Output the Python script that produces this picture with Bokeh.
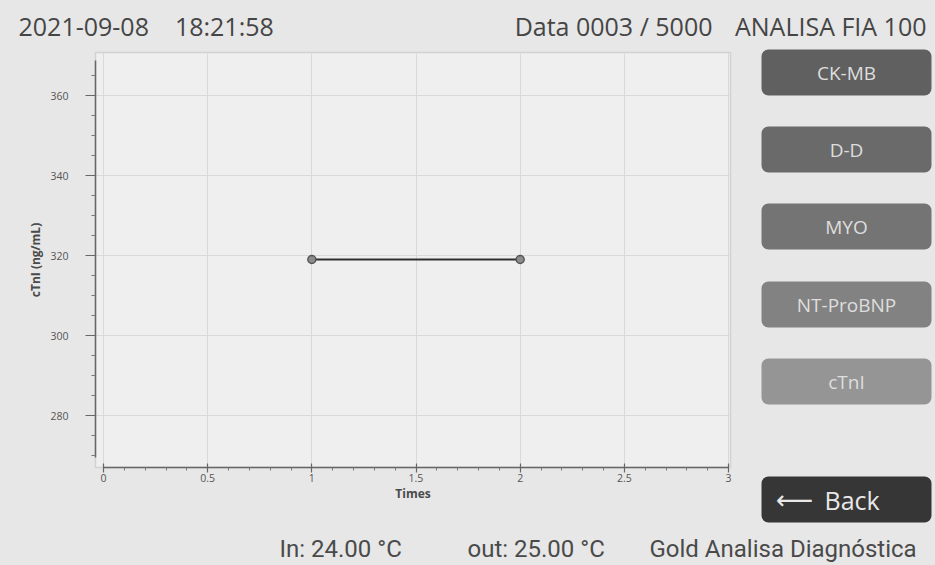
from bokeh.plotting import figure
from bokeh.layouts import column, row
from bokeh.models import Range1d, FixedTicker, BoxAnnotation, Label
from bokeh.embed import file_html
from bokeh.resources import INLINE

# ---- data ----
times = [1, 2]
ctni = [319, 319]

x_major = [0, 0.5, 1, 1.5, 2, 2.5, 3]
x_minor = [0.1, 0.2, 0.3, 0.4, 0.6, 0.7, 0.8, 0.9, 1.1, 1.2, 1.3, 1.4,
           1.6, 1.7, 1.8, 1.9, 2.1, 2.2, 2.3, 2.4, 2.6, 2.7, 2.8, 2.9]
y_major = [280, 300, 320, 340, 360]
y_minor = [270, 275, 285, 290, 295, 305, 310, 315, 325, 330, 335, 345, 350, 355, 365]

buttons = ["CK-MB", "D-D", "MYO", "NT-ProBNP", "cTnI"]
button_colors = ["#606060", "#6a6a6a", "#747474", "#828282", "#959595"]
back_arrow = "\u27f5"
back_label = "Back"
back_color = "#363636"

header_left = "2021-09-08\u00a0\u00a0\u00a0\u00a018:21:58"
header_mid = "Data 0003 / 5000"
header_right = "ANALISA FIA 100"
footer_texts = ["In: 24.00 \u00b0C", "out: 25.00 \u00b0C", "Gold Analisa Diagn\u00f3stica"]

x_title = "Times"
y_title = "cTnI (ng/mL)"

# ---- geometry (page pixels) ----
PW, PH = 935, 565
HEAD_H = 44
FOOT_H = 35
MID_H = PH - HEAD_H - FOOT_H
CHART_W = 745
SIDE_W = PW - CHART_W

BG = "#e7e7e7"

FL, FR, FT, FB = 95, 730, 52, 467          # chart frame edges (page px)
X0PX, X3PX = 103, 728                      # x=0 and x=3 positions
UX = (X3PX - X0PX) / 3.0
Y360PX, UY = 95, 4.0                       # y=360 position, px per unit

xs = -(X0PX - FL) / UX
xe = 3 + (FR - X3PX) / UX
ys = 360 - (FB - Y360PX) / UY
ye = 360 + (Y360PX - FT) / UY


def plain(w, h, x0, x1, y_top, y_bottom):
    f = figure(width=w, height=h, output_backend="svg", toolbar_location=None,
               x_range=Range1d(x0, x1), y_range=Range1d(y_bottom, y_top),
               min_border=0, x_axis_type=None, y_axis_type=None)
    f.background_fill_color = BG
    f.border_fill_color = BG
    f.outline_line_color = None
    f.xgrid.visible = False
    f.ygrid.visible = False
    return f


# ---- header ----
head = plain(PW, HEAD_H, 0, PW, 0, HEAD_H)
HY = 25
hkw = dict(text_font="Open Sans", text_font_size="25px",
           text_color="#454545", text_baseline="middle")
head.add_layout(Label(x=18, y=HY, text=header_left, **hkw))
head.add_layout(Label(x=712, y=HY, text=header_mid, text_align="right", **hkw))
head.add_layout(Label(x=926, y=HY, text=header_right, text_align="right", **hkw))

# ---- chart ----
p = figure(width=CHART_W, height=MID_H, output_backend="svg", toolbar_location=None,
           x_range=Range1d(xs, xe), y_range=Range1d(ys, ye),
           min_border_left=FL, min_border_right=CHART_W - FR,
           min_border_top=FT - HEAD_H, min_border_bottom=HEAD_H + MID_H - FB)
p.background_fill_color = "#efefef"
p.border_fill_color = BG
p.outline_line_color = "#d2d2d2"
p.outline_line_width = 1.5

for ax in p.xaxis:
    ax.ticker = FixedTicker(ticks=x_major, minor_ticks=x_minor)
    ax.bounds = (0, 3)
    ax.major_tick_in = 4
    ax.major_tick_out = 5
    ax.minor_tick_in = 0
    ax.minor_tick_out = 3
    ax.major_label_standoff = 1
    ax.axis_label = x_title
    ax.axis_label_standoff = 0
for ax in p.yaxis:
    ax.ticker = FixedTicker(ticks=y_major, minor_ticks=y_minor)
    ax.bounds = (269.5, 368.75)
    ax.major_tick_in = 0
    ax.major_tick_out = 10
    ax.minor_tick_in = 0
    ax.minor_tick_out = 4
    ax.major_label_standoff = 17
    ax.axis_label = y_title
    ax.axis_label_standoff = 3
for ax in p.xaxis + p.yaxis:
    ax.axis_line_color = "#666666"
    ax.axis_line_width = 1.5
    ax.major_tick_line_color = "#666666"
    ax.major_tick_line_width = 1.2
    ax.minor_tick_line_color = "#777777"
    ax.major_label_text_font = "Open Sans"
    ax.major_label_text_font_size = "10.5px"
    ax.major_label_text_color = "#555555"
    ax.axis_label_text_font = "Open Sans"
    ax.axis_label_text_font_size = "12px"
    ax.axis_label_text_font_style = "bold"
    ax.axis_label_text_color = "#4a4a4a"

p.xgrid.grid_line_color = "#d9d9d9"
p.ygrid.grid_line_color = "#d9d9d9"

p.line(times, ctni, line_color="#2e2e2e", line_width=2.2)
p.scatter(times, ctni, size=8, fill_color="#8c8c8c", line_color="#555555", line_width=1.5)

# ---- side buttons ----
side = plain(SIDE_W, MID_H, CHART_W, PW, HEAD_H, HEAD_H + MID_H)
BL, BR, BH = 761, 931, 46
tops = [49, 126, 203, 281, 358]
for name, col, t in zip(buttons, button_colors, tops):
    side.add_layout(BoxAnnotation(left=BL, right=BR, top=t, bottom=t + BH,
                                  fill_color=col, fill_alpha=1, line_color=None,
                                  border_radius=7))
    side.add_layout(Label(x=(BL + BR) / 2, y=t + BH / 2, text=name,
                          text_font="Open Sans", text_font_size="19px", text_color="#dedede",
                          text_align="center", text_baseline="middle"))
side.add_layout(BoxAnnotation(left=BL, right=BR, top=476, bottom=522,
                              fill_color=back_color, fill_alpha=1, line_color=None,
                              border_radius=7))
side.add_layout(Label(x=794, y=499, text=back_arrow,
                      text_font="DejaVu Sans", text_font_size="26px", text_color="#e8e8e8",
                      text_align="center", text_baseline="middle"))
side.add_layout(Label(x=824, y=499, text=back_label,
                      text_font="Open Sans", text_font_size="25px", text_color="#e8e8e8",
                      text_align="left", text_baseline="middle"))

# ---- footer ----
foot = plain(PW, FOOT_H, 0, PW, HEAD_H + MID_H, PH)
foot_x = [279, 467, 649]
for t, fx in zip(footer_texts, foot_x):
    foot.add_layout(Label(x=fx, y=548, text=t, text_font="Roboto",
                          text_font_size="24px", text_color="#4a4a4a", text_baseline="middle"))

bgs = {"background-color": BG}
layout = column(head,
                row(p, column(side, spacing=0, styles=bgs), spacing=0, styles=bgs),
                foot, spacing=0, styles=bgs)
open("out.html", "w").write(file_html(layout, INLINE))
